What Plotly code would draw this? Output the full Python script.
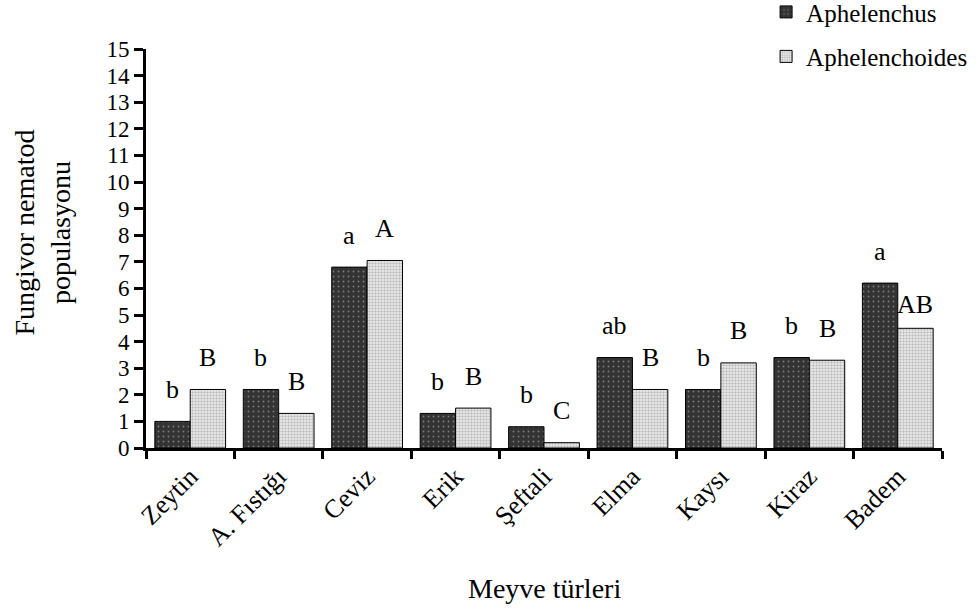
import plotly.graph_objects as go

# Fruit hosts and mean fungivorous nematode populations per genus
meyveler = ["Zeytin", "A. Fıstığı", "Ceviz", "Erik", "Şeftali", "Elma", "Kaysı", "Kiraz", "Badem"]
aphelenchus = [1.0, 2.2, 6.8, 1.3, 0.8, 3.4, 2.2, 3.4, 6.2]
aphelenchoides = [2.2, 1.3, 7.05, 1.5, 0.2, 2.2, 3.2, 3.3, 4.5]

# Significance letters for each genus
harf_aphelenchus = ["b", "b", "a", "b", "b", "ab", "b", "b", "a"]
harf_aphelenchoides = ["B", "B", "A", "B", "C", "B", "B", "B", "AB"]

serif = "Liberation Serif"

fig = go.Figure()
fig.add_trace(go.Bar(
    name="Aphelenchus", x=meyveler, y=aphelenchus, legendgroup="g1",
    marker=dict(color="#333333", line=dict(color="black", width=1),
                pattern=dict(shape=".", fgcolor="#c8c8c8", bgcolor="#333333",
                             size=5, solidity=0.1, fillmode="overlay")),
))
fig.add_trace(go.Bar(
    name="Aphelenchoides", x=meyveler, y=aphelenchoides, legendgroup="g2",
    marker=dict(color="#e6e6e6", line=dict(color="black", width=1),
                pattern=dict(shape=".", fgcolor="#8c8c8c", bgcolor="#f0f0f0",
                             size=3, solidity=0.5, fillmode="overlay")),
))

# Letters placed above each bar
bar_half = 17.7
for i, cat in enumerate(meyveler):
    fig.add_annotation(x=cat, y=aphelenchus[i], text=harf_aphelenchus[i],
                       xref="x", yref="y", showarrow=False, xshift=-bar_half,
                       yshift=32, yanchor="middle",
                       font=dict(family=serif, size=26, color="black"))
    shift = 24 if harf_aphelenchoides[i] == "AB" else 32
    fig.add_annotation(x=cat, y=aphelenchoides[i], text=harf_aphelenchoides[i],
                       xref="x", yref="y", showarrow=False, xshift=bar_half,
                       yshift=shift, yanchor="middle",
                       font=dict(family=serif, size=26, color="black"))

# Axis titles
fig.add_annotation(text="Meyve türleri", xref="paper", yref="paper",
                   x=0.5, y=-0.351, xanchor="center", yanchor="middle",
                   showarrow=False, font=dict(family=serif, size=28, color="black"))
fig.add_annotation(text="Fungivor nematod<br>populasyonu", xref="paper", yref="paper",
                   x=-0.086, y=0.54, xanchor="right", yanchor="middle",
                   textangle=-90, showarrow=False,
                   font=dict(family=serif, size=28, color="black"))

fig.update_layout(
    width=976, height=610,
    barmode="group", bargap=0.2, bargroupgap=0,
    plot_bgcolor="white", paper_bgcolor="white",
    margin=dict(l=146, r=34, t=49, b=162, autoexpand=False),
    font=dict(family=serif, size=26, color="black"),
    legend=dict(x=0.779, y=1.15, xanchor="left", yanchor="top",
                tracegroupgap=9, font=dict(family=serif, size=25),
                bgcolor="rgba(0,0,0,0)"),
    xaxis=dict(tickangle=-45, showline=True, linecolor="black", linewidth=3,
               ticks="outside", tickson="boundaries", ticklen=8, tickwidth=3,
               tickcolor="black", tickfont=dict(size=26), automargin=False),
    yaxis=dict(range=[0, 15], dtick=1, showline=True, linecolor="black", linewidth=3,
               ticks="outside", ticklen=9, tickwidth=3, tickcolor="black",
               showgrid=False, zeroline=False, tickfont=dict(size=23),
               automargin=False),
)

fig.write_html("out.html")
